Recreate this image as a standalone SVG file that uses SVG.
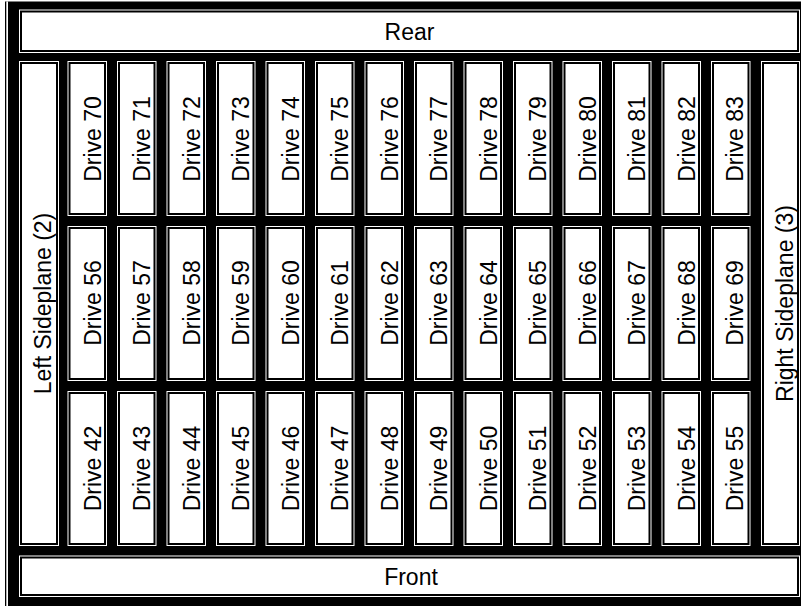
<svg xmlns="http://www.w3.org/2000/svg" width="801" height="606" viewBox="0 0 801 606">
<style>
.cw{fill:#fff}
.cb{fill:#fff;stroke:#000;stroke-width:2}
text{font-family:"Liberation Sans",Arial,sans-serif;font-size:23px;fill:#000;text-anchor:middle}
</style>
<rect x="0" y="0" width="801" height="606" fill="#fff"/>
<rect x="5" y="1.5" width="796" height="604.5" fill="#000"/>
<rect x="6.3" y="1.5" width="1.7" height="604.5" fill="#fff"/>
<g id="rear"><rect class="cw" x="19" y="9.5" width="781" height="43.5"/><rect class="cb" x="21" y="11.5" width="777" height="39.5"/><text x="409.5" y="39.5">Rear</text></g>
<g id="front"><rect class="cw" x="19" y="555.5" width="781" height="41.5"/><rect class="cb" x="21" y="557.5" width="777" height="37.5"/><text x="411" y="584.5">Front</text></g>
<g id="left-sideplane"><rect class="cw" x="19" y="61" width="40" height="485"/><rect class="cb" x="21" y="63" width="36" height="481"/><text transform="translate(51,303.5) rotate(-90)">Left Sideplane (2)</text></g>
<g id="right-sideplane"><rect class="cw" x="761" y="61" width="39" height="485"/><rect class="cb" x="763" y="63" width="35" height="481"/><text transform="translate(792.5,303.5) rotate(-90)">Right Sideplane (3)</text></g>
<g id="drive-70"><rect class="cw" x="67.5" y="61" width="39.5" height="155"/><rect class="cb" x="69.5" y="63" width="35.5" height="151"/><text transform="translate(100.5,139) rotate(-90)">Drive 70</text></g>
<g id="drive-71"><rect class="cw" x="117" y="61" width="39.5" height="155"/><rect class="cb" x="119" y="63" width="35.5" height="151"/><text transform="translate(150,139) rotate(-90)">Drive 71</text></g>
<g id="drive-72"><rect class="cw" x="166.5" y="61" width="39.5" height="155"/><rect class="cb" x="168.5" y="63" width="35.5" height="151"/><text transform="translate(199.5,139) rotate(-90)">Drive 72</text></g>
<g id="drive-73"><rect class="cw" x="216" y="61" width="39.5" height="155"/><rect class="cb" x="218" y="63" width="35.5" height="151"/><text transform="translate(249,139) rotate(-90)">Drive 73</text></g>
<g id="drive-74"><rect class="cw" x="265.5" y="61" width="39.5" height="155"/><rect class="cb" x="267.5" y="63" width="35.5" height="151"/><text transform="translate(298.5,139) rotate(-90)">Drive 74</text></g>
<g id="drive-75"><rect class="cw" x="315" y="61" width="39.5" height="155"/><rect class="cb" x="317" y="63" width="35.5" height="151"/><text transform="translate(348,139) rotate(-90)">Drive 75</text></g>
<g id="drive-76"><rect class="cw" x="364.5" y="61" width="39.5" height="155"/><rect class="cb" x="366.5" y="63" width="35.5" height="151"/><text transform="translate(397.5,139) rotate(-90)">Drive 76</text></g>
<g id="drive-77"><rect class="cw" x="414" y="61" width="39.5" height="155"/><rect class="cb" x="416" y="63" width="35.5" height="151"/><text transform="translate(447,139) rotate(-90)">Drive 77</text></g>
<g id="drive-78"><rect class="cw" x="463.5" y="61" width="39.5" height="155"/><rect class="cb" x="465.5" y="63" width="35.5" height="151"/><text transform="translate(496.5,139) rotate(-90)">Drive 78</text></g>
<g id="drive-79"><rect class="cw" x="513" y="61" width="39.5" height="155"/><rect class="cb" x="515" y="63" width="35.5" height="151"/><text transform="translate(546,139) rotate(-90)">Drive 79</text></g>
<g id="drive-80"><rect class="cw" x="562.5" y="61" width="39.5" height="155"/><rect class="cb" x="564.5" y="63" width="35.5" height="151"/><text transform="translate(595.5,139) rotate(-90)">Drive 80</text></g>
<g id="drive-81"><rect class="cw" x="612" y="61" width="39.5" height="155"/><rect class="cb" x="614" y="63" width="35.5" height="151"/><text transform="translate(645,139) rotate(-90)">Drive 81</text></g>
<g id="drive-82"><rect class="cw" x="661.5" y="61" width="39.5" height="155"/><rect class="cb" x="663.5" y="63" width="35.5" height="151"/><text transform="translate(694.5,139) rotate(-90)">Drive 82</text></g>
<g id="drive-83"><rect class="cw" x="711" y="61" width="39.5" height="155"/><rect class="cb" x="713" y="63" width="35.5" height="151"/><text transform="translate(743,139) rotate(-90)">Drive 83</text></g>
<g id="drive-56"><rect class="cw" x="67.5" y="226" width="39.5" height="155"/><rect class="cb" x="69.5" y="228" width="35.5" height="151"/><text transform="translate(100.5,303) rotate(-90)">Drive 56</text></g>
<g id="drive-57"><rect class="cw" x="117" y="226" width="39.5" height="155"/><rect class="cb" x="119" y="228" width="35.5" height="151"/><text transform="translate(150,303) rotate(-90)">Drive 57</text></g>
<g id="drive-58"><rect class="cw" x="166.5" y="226" width="39.5" height="155"/><rect class="cb" x="168.5" y="228" width="35.5" height="151"/><text transform="translate(199.5,303) rotate(-90)">Drive 58</text></g>
<g id="drive-59"><rect class="cw" x="216" y="226" width="39.5" height="155"/><rect class="cb" x="218" y="228" width="35.5" height="151"/><text transform="translate(249,303) rotate(-90)">Drive 59</text></g>
<g id="drive-60"><rect class="cw" x="265.5" y="226" width="39.5" height="155"/><rect class="cb" x="267.5" y="228" width="35.5" height="151"/><text transform="translate(298.5,303) rotate(-90)">Drive 60</text></g>
<g id="drive-61"><rect class="cw" x="315" y="226" width="39.5" height="155"/><rect class="cb" x="317" y="228" width="35.5" height="151"/><text transform="translate(348,303) rotate(-90)">Drive 61</text></g>
<g id="drive-62"><rect class="cw" x="364.5" y="226" width="39.5" height="155"/><rect class="cb" x="366.5" y="228" width="35.5" height="151"/><text transform="translate(397.5,303) rotate(-90)">Drive 62</text></g>
<g id="drive-63"><rect class="cw" x="414" y="226" width="39.5" height="155"/><rect class="cb" x="416" y="228" width="35.5" height="151"/><text transform="translate(447,303) rotate(-90)">Drive 63</text></g>
<g id="drive-64"><rect class="cw" x="463.5" y="226" width="39.5" height="155"/><rect class="cb" x="465.5" y="228" width="35.5" height="151"/><text transform="translate(496.5,303) rotate(-90)">Drive 64</text></g>
<g id="drive-65"><rect class="cw" x="513" y="226" width="39.5" height="155"/><rect class="cb" x="515" y="228" width="35.5" height="151"/><text transform="translate(546,303) rotate(-90)">Drive 65</text></g>
<g id="drive-66"><rect class="cw" x="562.5" y="226" width="39.5" height="155"/><rect class="cb" x="564.5" y="228" width="35.5" height="151"/><text transform="translate(595.5,303) rotate(-90)">Drive 66</text></g>
<g id="drive-67"><rect class="cw" x="612" y="226" width="39.5" height="155"/><rect class="cb" x="614" y="228" width="35.5" height="151"/><text transform="translate(645,303) rotate(-90)">Drive 67</text></g>
<g id="drive-68"><rect class="cw" x="661.5" y="226" width="39.5" height="155"/><rect class="cb" x="663.5" y="228" width="35.5" height="151"/><text transform="translate(694.5,303) rotate(-90)">Drive 68</text></g>
<g id="drive-69"><rect class="cw" x="711" y="226" width="39.5" height="155"/><rect class="cb" x="713" y="228" width="35.5" height="151"/><text transform="translate(743,303) rotate(-90)">Drive 69</text></g>
<g id="drive-42"><rect class="cw" x="67.5" y="391" width="39.5" height="155"/><rect class="cb" x="69.5" y="393" width="35.5" height="151"/><text transform="translate(100.5,468.5) rotate(-90)">Drive 42</text></g>
<g id="drive-43"><rect class="cw" x="117" y="391" width="39.5" height="155"/><rect class="cb" x="119" y="393" width="35.5" height="151"/><text transform="translate(150,468.5) rotate(-90)">Drive 43</text></g>
<g id="drive-44"><rect class="cw" x="166.5" y="391" width="39.5" height="155"/><rect class="cb" x="168.5" y="393" width="35.5" height="151"/><text transform="translate(199.5,468.5) rotate(-90)">Drive 44</text></g>
<g id="drive-45"><rect class="cw" x="216" y="391" width="39.5" height="155"/><rect class="cb" x="218" y="393" width="35.5" height="151"/><text transform="translate(249,468.5) rotate(-90)">Drive 45</text></g>
<g id="drive-46"><rect class="cw" x="265.5" y="391" width="39.5" height="155"/><rect class="cb" x="267.5" y="393" width="35.5" height="151"/><text transform="translate(298.5,468.5) rotate(-90)">Drive 46</text></g>
<g id="drive-47"><rect class="cw" x="315" y="391" width="39.5" height="155"/><rect class="cb" x="317" y="393" width="35.5" height="151"/><text transform="translate(348,468.5) rotate(-90)">Drive 47</text></g>
<g id="drive-48"><rect class="cw" x="364.5" y="391" width="39.5" height="155"/><rect class="cb" x="366.5" y="393" width="35.5" height="151"/><text transform="translate(397.5,468.5) rotate(-90)">Drive 48</text></g>
<g id="drive-49"><rect class="cw" x="414" y="391" width="39.5" height="155"/><rect class="cb" x="416" y="393" width="35.5" height="151"/><text transform="translate(447,468.5) rotate(-90)">Drive 49</text></g>
<g id="drive-50"><rect class="cw" x="463.5" y="391" width="39.5" height="155"/><rect class="cb" x="465.5" y="393" width="35.5" height="151"/><text transform="translate(496.5,468.5) rotate(-90)">Drive 50</text></g>
<g id="drive-51"><rect class="cw" x="513" y="391" width="39.5" height="155"/><rect class="cb" x="515" y="393" width="35.5" height="151"/><text transform="translate(546,468.5) rotate(-90)">Drive 51</text></g>
<g id="drive-52"><rect class="cw" x="562.5" y="391" width="39.5" height="155"/><rect class="cb" x="564.5" y="393" width="35.5" height="151"/><text transform="translate(595.5,468.5) rotate(-90)">Drive 52</text></g>
<g id="drive-53"><rect class="cw" x="612" y="391" width="39.5" height="155"/><rect class="cb" x="614" y="393" width="35.5" height="151"/><text transform="translate(645,468.5) rotate(-90)">Drive 53</text></g>
<g id="drive-54"><rect class="cw" x="661.5" y="391" width="39.5" height="155"/><rect class="cb" x="663.5" y="393" width="35.5" height="151"/><text transform="translate(694.5,468.5) rotate(-90)">Drive 54</text></g>
<g id="drive-55"><rect class="cw" x="711" y="391" width="39.5" height="155"/><rect class="cb" x="713" y="393" width="35.5" height="151"/><text transform="translate(743,468.5) rotate(-90)">Drive 55</text></g>
<g id="connectors"></g>
</svg>
